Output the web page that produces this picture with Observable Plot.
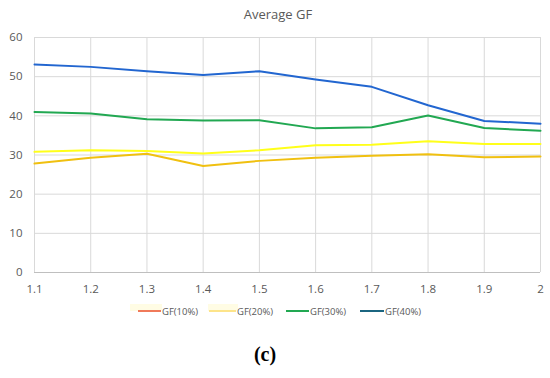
<!DOCTYPE html>
<html>
<head>
<meta charset="utf-8">
<script src="https://cdn.jsdelivr.net/npm/d3@7"></script>
<script src="https://cdn.jsdelivr.net/npm/@observablehq/plot@0.6"></script>
<style>
  body { margin: 0; background: #fff; font-family: "Open Sans", "Noto Sans", sans-serif; }
  #wrap { position: relative; width: 550px; height: 378px; overflow: hidden; }
  #title { position: absolute; top: 5px; left: 0; width: 556px; text-align: center; font-size: 13px; color: #595959; }
  #chart { position: absolute; top: 25px; left: 0; }
  #legend { position: absolute; top: 0; left: 0; width: 550px; height: 378px; font-size: 9.5px; color: #595959; }
  .item { position: absolute; top: 303px; display: flex; align-items: center; height: 16px; }
  .hl { position: absolute; top: 304px; height: 7px; background: #fffce4; }
  .sw { height: 2px; margin-right: 1px; position: relative; }
  .lab { position: relative; }
  #cap { position: absolute; top: 343px; left: 0; width: 530px; text-align: center; font-family: "Liberation Serif", "DejaVu Serif", serif; font-weight: bold; font-size: 20px; color: #000; }
</style>
</head>
<body>
<div id="wrap">
  <div id="title">Average GF</div>
  <div id="chart"></div>
  <div id="legend"></div>
  <div id="cap">(c)</div>
</div>
<script>
const xs = [1.1, 1.2, 1.3, 1.4, 1.5, 1.6, 1.7, 1.8, 1.9, 2.0];
const gf10 = [27.8, 29.3, 30.3, 27.2, 28.5, 29.3, 29.8, 30.2, 29.4, 29.6];
const gf20 = [30.8, 31.2, 31.0, 30.4, 31.2, 32.5, 32.6, 33.5, 32.8, 32.8];
const gf30 = [41.0, 40.6, 39.1, 38.8, 38.9, 36.8, 37.1, 40.1, 36.9, 36.2];
const gf40 = [53.1, 52.5, 51.4, 50.4, 51.4, 49.3, 47.4, 42.7, 38.7, 38.0];
const seriesNames = ["GF(10%)", "GF(20%)", "GF(30%)", "GF(40%)"];
const lineColors = ["#f0c010", "#ffff1a", "#22a852", "#2266d0"];
const legendColors = ["#f07a5a", "#fde48a", "#22a852", "#1b6580"];
const yTicks = [0, 10, 20, 30, 40, 50, 60];

const allSeries = [gf10, gf20, gf30, gf40];
const rows = [];
allSeries.forEach((arr, si) => arr.forEach((v, i) => rows.push({x: xs[i], y: v, s: seriesNames[si]})));

const fmt = d => String(+d.toFixed(1));
const chart = Plot.plot({
  width: 550,
  height: 275,
  marginTop: 12,
  marginBottom: 28,
  marginLeft: 34,
  marginRight: 10,
  style: {fontFamily: "'Open Sans', 'Noto Sans', sans-serif", fontSize: "11.5px", color: "#595959"},
  x: {type: "linear", domain: [1.1, 2.0], label: null},
  y: {domain: [0, 60], label: null},
  color: {domain: seriesNames, range: lineColors},
  marks: [
    Plot.ruleY(yTicks, {stroke: "#d9d9d9", strokeWidth: 1}),
    Plot.ruleX(xs, {stroke: "#d9d9d9", strokeWidth: 1}),
    Plot.ruleY([0], {stroke: "#bfbfbf", strokeWidth: 1}),
    Plot.line(rows, {x: "x", y: "y", z: "s", stroke: "s", strokeWidth: 2}),
    Plot.axisX({ticks: xs, tickFormat: fmt, tickSize: 0, tickPadding: 12, fill: "#595959"}),
    Plot.axisY({ticks: yTicks, tickSize: 0, tickPadding: 12, fill: "#595959"})
  ]
});
document.getElementById("chart").appendChild(chart);

const legend = document.getElementById("legend");
const swLeft = [138, 209, 286, 360];
const swW = [23, 27, 23, 24];
const hls = [[130, 32], [208, 30], null, null];
seriesNames.forEach((n, i) => {
  if (hls[i]) {
    const h = document.createElement("div");
    h.className = "hl";
    h.style.left = hls[i][0] + "px";
    h.style.width = hls[i][1] + "px";
    legend.appendChild(h);
  }
  const it = document.createElement("div");
  it.className = "item";
  it.style.left = swLeft[i] + "px";
  const sw = document.createElement("div");
  sw.className = "sw";
  sw.style.width = swW[i] + "px";
  sw.style.background = legendColors[i];
  const lab = document.createElement("span");
  lab.className = "lab";
  lab.textContent = n;
  it.appendChild(sw);
  it.appendChild(lab);
  legend.appendChild(it);
});
</script>
</body>
</html>
